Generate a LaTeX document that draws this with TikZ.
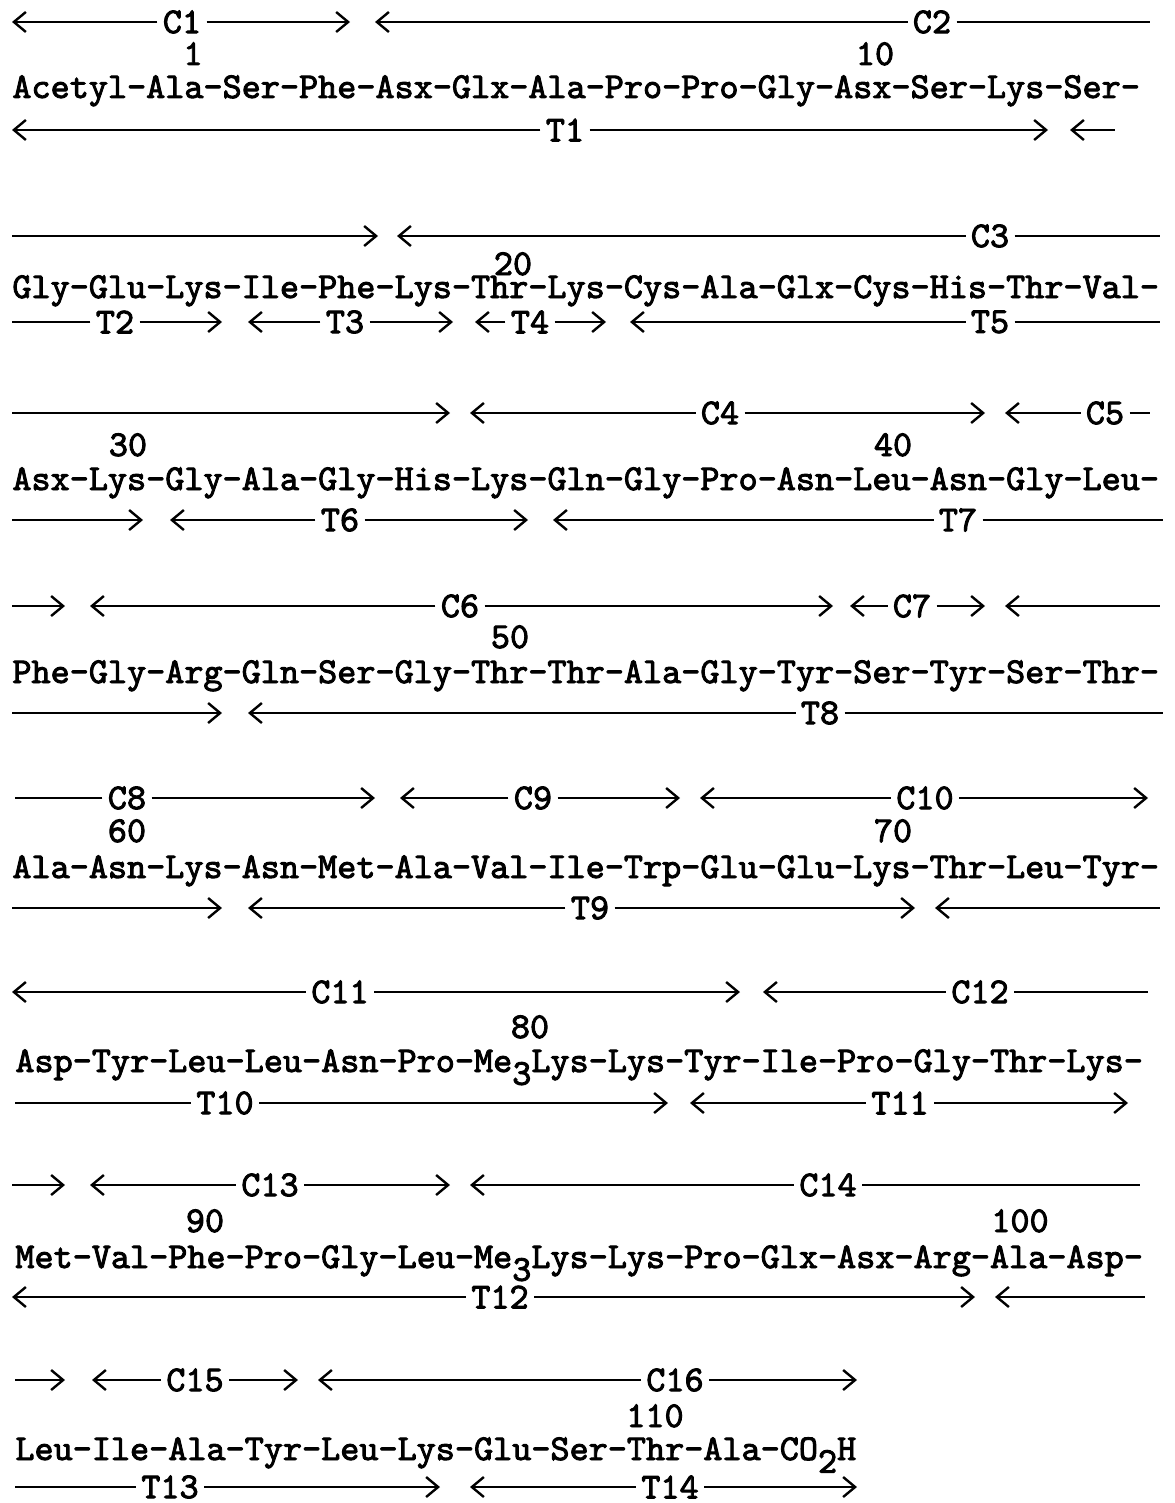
\documentclass[tikz,border=0pt]{standalone}
\usepackage{fontspec}
\newfontfamily\typerfont{lmmono10-regular.otf}[FakeBold=2.5]
\usetikzlibrary{arrows.meta}

% labelled fragment: name, left end, label x, right end, y, text, left style, right style
\newcommand{\frag}[8]{%
  \coordinate (#1-l) at (#2,#5);
  \coordinate (#1-r) at (#4,#5);
  \node [fraglabel] (#1) at (#3,#5) {#6};
  \path [#7] (#1) -- (#1-l);
  \path [#8] (#1) -- (#1-r);
}
% fragment running on from / to the next line (no label)
\newcommand{\runon}[5]{%
  \coordinate (#1-l) at (#2,#4);
  \coordinate (#1-r) at (#3,#4);
  \path [#5] (#1-l) -- (#1-r);
}

\begin{document}
\begin{tikzpicture}[
    x=0.5pt, y=-0.5pt,
    every node/.style={font=\typerfont\fontsize{18.2}{20}\selectfont},
    fraglabel/.style={inner xsep=2.5pt, inner ysep=0pt},
    num/.style={anchor=base, inner sep=0pt},
    seq/.style={anchor=base west, inner sep=0pt},
    noarrow/.style={draw, line width=1.2pt},
    endarrow/.style={draw, line width=1.2pt, -{Straight Barb[length=6pt,width=10pt]}},
    startarrow/.style={draw, line width=1.2pt, {Straight Barb[length=6pt,width=10pt]}-}
]
    \useasboundingbox (0,0) rectangle (1174,1503);

    % Line 1: residues 1-13
    \frag{c1}{12}{182}{350}{22}{C1}{endarrow}{endarrow}
    \frag{c2}{375}{932}{1150}{22}{C2}{endarrow}{noarrow}
    \node [num] (n1) at (193,65) {1};
    \node [num] (n10) at (875,65) {10};
    \node [seq] (row1) at (12,98) {Acetyl-Ala-Ser-Phe-Asx-Glx-Ala-Pro-Pro-Gly-Asx-Ser-Lys-Ser-};
    \frag{t1}{12}{565}{1048}{130}{T1}{endarrow}{endarrow}
    \runon{t2a}{1070}{1115}{130}{startarrow}

    % Line 2: residues 14-28
    \runon{c2b}{12}{378}{236}{endarrow}
    \frag{c3}{397}{990}{1160}{236}{C3}{endarrow}{noarrow}
    \node [num] (n20) at (513,275) {20};
    \node [seq] (row2) at (12,298) {Gly-Glu-Lys-Ile-Phe-Lys-Thr-Lys-Cys-Ala-Glx-Cys-His-Thr-Val-};
    \frag{t2}{12}{115}{222}{322}{T2}{noarrow}{endarrow}
    \frag{t3}{248}{345}{453}{322}{T3}{endarrow}{endarrow}
    \frag{t4}{475}{530}{606}{322}{T4}{endarrow}{endarrow}
    \frag{t5}{630}{990}{1160}{322}{T5}{endarrow}{noarrow}

    % Line 3: residues 29-43
    \runon{c3b}{12}{450}{413}{endarrow}
    \frag{c4}{470}{720}{985}{413}{C4}{endarrow}{endarrow}
    \frag{c5}{1005}{1105}{1150}{413}{C5}{endarrow}{noarrow}
    \node [num] (n30) at (128,456) {30};
    \node [num] (n40) at (893,456) {40};
    \node [seq] (row3) at (12,490) {Asx-Lys-Gly-Ala-Gly-His-Lys-Gln-Gly-Pro-Asn-Leu-Asn-Gly-Leu-};
    \runon{t5b}{12}{143}{520}{endarrow}
    \frag{t6}{170}{340}{528}{520}{T6}{endarrow}{endarrow}
    \frag{t7}{553}{958}{1163}{520}{T7}{endarrow}{noarrow}

    % Line 4: residues 44-58
    \runon{c5b}{12}{65}{606}{endarrow}
    \frag{c6}{90}{460}{833}{606}{C6}{endarrow}{endarrow}
    \frag{c7}{850}{912}{985}{606}{C7}{endarrow}{endarrow}
    \runon{c8a}{1005}{1160}{606}{startarrow}
    \node [num] (n50) at (510,648) {50};
    \node [seq] (row4) at (12,683) {Phe-Gly-Arg-Gln-Ser-Gly-Thr-Thr-Ala-Gly-Tyr-Ser-Tyr-Ser-Thr-};
    \runon{t7b}{12}{222}{713}{endarrow}
    \frag{t8}{248}{820}{1163}{713}{T8}{endarrow}{noarrow}

    % Line 5: residues 59-73
    \frag{c8}{15}{127}{375}{798}{C8}{noarrow}{endarrow}
    \frag{c9}{400}{533}{680}{798}{C9}{endarrow}{endarrow}
    \frag{c10}{700}{925}{1148}{798}{C10}{endarrow}{endarrow}
    \node [num] (n60) at (127,842) {60};
    \node [num] (n70) at (893,842) {70};
    \node [seq] (row5) at (12,878) {Ala-Asn-Lys-Asn-Met-Ala-Val-Ile-Trp-Glu-Glu-Lys-Thr-Leu-Tyr-};
    \runon{t8b}{12}{222}{908}{endarrow}
    \frag{t9}{248}{590}{915}{908}{T9}{endarrow}{endarrow}
    \runon{t10a}{935}{1160}{908}{startarrow}

    % Line 6: residues 74-87
    \frag{c11}{12}{340}{740}{992}{C11}{endarrow}{endarrow}
    \frag{c12}{763}{980}{1148}{992}{C12}{endarrow}{noarrow}
    \node [num] (n80) at (530,1038) {80};
    \node [seq] (row6) at (15,1072) {Asp-Tyr-Leu-Leu-Asn-Pro-Me\raisebox{-0.35em}{3}Lys-Lys-Tyr-Ile-Pro-Gly-Thr-Lys-};
    \frag{t10}{15}{225}{668}{1103}{T10}{noarrow}{endarrow}
    \frag{t11}{690}{900}{1128}{1103}{T11}{endarrow}{endarrow}

    % Line 7: residues 88-101
    \runon{c12b}{12}{65}{1185}{endarrow}
    \frag{c13}{90}{270}{450}{1185}{C13}{endarrow}{endarrow}
    \frag{c14}{470}{828}{1140}{1185}{C14}{endarrow}{noarrow}
    \node [num] (n90) at (205,1232) {90};
    \node [num] (n100) at (1020,1232) {100};
    \node [seq] (row7) at (15,1268) {Met-Val-Phe-Pro-Gly-Leu-Me\raisebox{-0.35em}{3}Lys-Lys-Pro-Glx-Asx-Arg-Ala-Asp-};
    \frag{t12}{12}{500}{975}{1297}{T12}{endarrow}{endarrow}
    \runon{t13a}{995}{1145}{1297}{startarrow}

    % Line 8: residues 102-111
    \runon{c14b}{15}{65}{1380}{endarrow}
    \frag{c15}{92}{195}{298}{1380}{C15}{endarrow}{endarrow}
    \frag{c16}{318}{675}{857}{1380}{C16}{endarrow}{endarrow}
    \node [num] (n110) at (655,1427) {110};
    \node [seq] (row8) at (15,1460) {Leu-Ile-Ala-Tyr-Leu-Lys-Glu-Ser-Thr-Ala-CO\raisebox{-0.35em}{2}H};
    \frag{t13}{15}{170}{440}{1487}{T13}{noarrow}{endarrow}
    \frag{t14}{470}{670}{857}{1487}{T14}{endarrow}{endarrow}

\end{tikzpicture}
\end{document}
